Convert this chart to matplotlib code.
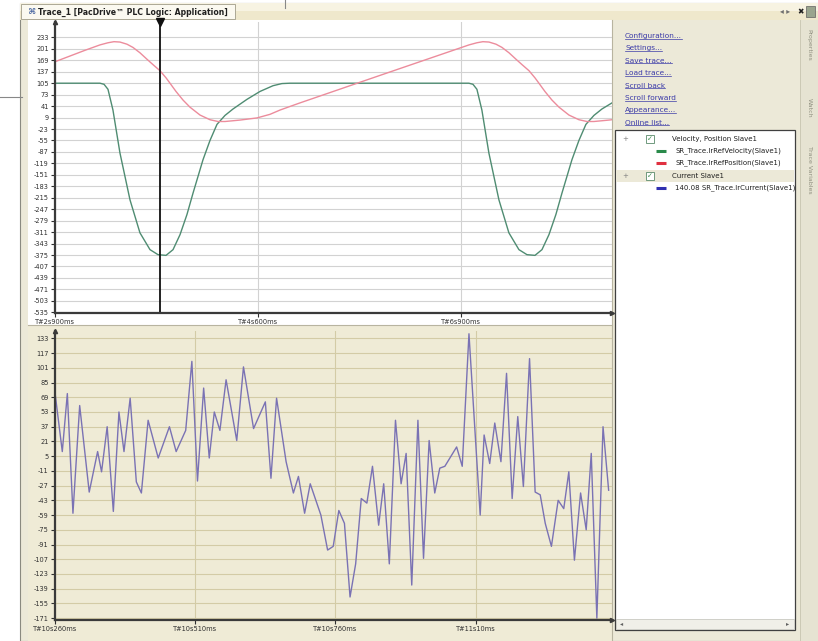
import matplotlib
matplotlib.use('Agg')
import matplotlib.pyplot as plt
from matplotlib.patches import Rectangle

W, H = 818, 641

# ---------------- data ----------------
# upper chart: velocity (green) and position (red) of Slave1, time in ms
vel_t = [2900, 3343, 3383, 3422, 3471, 3540, 3639, 3737, 3836, 3915, 3994, 4063, 4132, 4200,
         4260, 4358, 4427, 4496, 4575, 4654, 4792, 4920, 5048, 5136, 5215, 6978, 7018, 7057,
         7106, 7175, 7274, 7372, 7471, 7550, 7629, 7698, 7767, 7835, 7895, 7993, 8062, 8131,
         8210, 8289, 8388]
vel_v = [105, 105, 102, 88, 30, -90, -221, -313, -360, -374, -376, -360, -318, -262,
         -202, -109, -55, -10, 15, 33, 60, 82, 98, 104, 105, 105, 102, 88,
         30, -90, -221, -313, -360, -374, -376, -360, -318, -262, -202, -109, -55, -10,
         15, 33, 50]
pos_t = [2900, 3048, 3196, 3343, 3422, 3481, 3540, 3609, 3668, 3737, 3806, 3865, 3934, 3994,
         4033, 4092, 4161, 4230, 4329, 4427, 4506, 4575, 4723, 4890, 5018, 5117, 5215, 5314,
         5806, 6299, 6979, 7057, 7116, 7176, 7245, 7304, 7373, 7442, 7501, 7570, 7629, 7668,
         7727, 7796, 7866, 7964, 8062, 8141, 8210, 8358, 8388]
pos_v = [165, 181, 197, 212, 218, 221, 220, 214, 205, 190, 172, 157, 140, 120,
         105, 82, 58, 38, 16, 3, -2, -2, 2, 8, 18, 30, 40, 50,
         98, 146, 212, 218, 221, 220, 214, 205, 190, 172, 157, 140, 120, 105,
         82, 58, 38, 16, 3, -2, -2, 2, 3]
cursor_t = 3934
upper_yticks = [233, 201, 169, 137, 105, 73, 41, 9, -23, -55, -87, -119, -151, -183, -215,
                -247, -279, -311, -343, -375, -407, -439, -471, -503, -535]
upper_xticks = [2900, 4900, 6900]
upper_xlabels = ['T#2s900ms', 'T#4s600ms', 'T#6s900ms']

# lower chart: current of Slave1
cur_t = [10260, 10273, 10282, 10292, 10304, 10321, 10336, 10343, 10353, 10364, 10374, 10383,
         10394, 10405, 10414, 10426, 10444, 10464, 10476, 10493, 10504, 10514, 10525, 10535,
         10544, 10554, 10565, 10584, 10596, 10614, 10635, 10645, 10655, 10672, 10685, 10694,
         10705, 10715, 10734, 10746, 10756, 10766, 10776, 10786, 10796, 10806, 10816, 10826,
         10837, 10846, 10856, 10867, 10877, 10886, 10896, 10907, 10917, 10927, 10937, 10946,
         10955, 10976, 10986, 10998, 11018, 11025, 11035, 11044, 11055, 11065, 11075, 11085,
         11095, 11106, 11116, 11125, 11134, 11145, 11157, 11167, 11176, 11186, 11197, 11207,
         11216, 11226, 11237, 11247]
cur_v = [74, 10, 73, -57, 60, -34, 10, -12, 37, -55, 53, 10,
         68, -23, -35, 44, 3, 37, 10, 33, 108, -22, 79, 3,
         53, 33, 88, 22, 102, 35, 64, -19, 68, -1, -35, -17,
         -57, -25, -59, -97, -93, -54, -68, -148, -112, -41, -46, -6,
         -70, -25, -112, 44, -25, 8, -135, 44, -106, 22, -35, -8,
         -6, 15, -6, 138, -59, 28, -3, 41, -1, 95, -41, 48,
         -28, 111, -34, -37, -68, -93, -43, -52, -12, -108, -35, -75,
         8, -171, 37, -32]
lower_yticks = [133, 117, 101, 85, 69, 53, 37, 21, 5, -11, -27, -43, -59, -75, -91, -107,
                -123, -139, -155, -171]
lower_xticks = [10260, 10510, 10760, 11010]
lower_xlabels = ['T#10s260ms', 'T#10s510ms', 'T#10s760ms', 'T#11s10ms']

links = ['Configuration...', 'Settings...', 'Save trace...', 'Load trace...', 'Scroll back',
         'Scroll forward', 'Appearance...', 'Online list...']
tree_items = ['Velocity, Position Slave1', 'SR_Trace.lrRefVelocity(Slave1)',
              'SR_Trace.lrRefPosition(Slave1)', 'Current Slave1',
              '140.08 SR_Trace.lrCurrent(Slave1)']

GREEN = '#4f8c72'
RED = '#ec8c9c'
BLUE = '#7a72b4'

plt.rcParams['font.family'] = ['DejaVu Sans']

fig = plt.figure(figsize=(W / 100, H / 100), dpi=100)
fig.patch.set_facecolor('white')


def box(x0, y0, x1, y1):
    return [x0 / W, 1 - y1 / H, (x1 - x0) / W, (y1 - y0) / H]


# background axes in pixel coordinates
bg = fig.add_axes([0, 0, 1, 1])
bg.set_xlim(0, W)
bg.set_ylim(H, 0)
bg.axis('off')

# page artifacts
bg.plot([0, 22], [97, 97], color='#888888', lw=0.8)
bg.plot([285, 285], [0, 8], color='#888888', lw=0.8)

# window frame
bg.add_patch(Rectangle((20, 3), W - 20, H - 3, facecolor='#ece9d8', edgecolor='#8a8a80', lw=0.8))
# title bar
bg.add_patch(Rectangle((20, 3), W - 20, 17, facecolor='#efe8cc', edgecolor='none'))
bg.add_patch(Rectangle((20, 3), W - 20, 8, facecolor='#f7f3e2', edgecolor='none'))
bg.add_patch(Rectangle((21, 4), 214, 15, facecolor='#fbf9f0', edgecolor='#a09c88', lw=0.6))
bg.text(28, 12, '\u2318', fontsize=6, color='#3a5a9a', va='center', ha='left')
bg.text(38, 12, 'Trace_1 [PacDrive\u2122 PLC Logic: Application]', fontsize=5.6,
        fontweight='bold', color='#202020', va='center', ha='left')
bg.text(780, 12, '\u25c2 \u25b8', fontsize=5.5, color='#707070', va='center', ha='left')
bg.text(797, 12, '\u2716', fontsize=5.5, color='#202020', va='center', ha='left')
bg.add_patch(Rectangle((806, 6), 9, 11, facecolor='#9aa58e', edgecolor='#606060', lw=0.5))

# plot panels
bg.add_patch(Rectangle((28, 20), 584, 305, facecolor='white', edgecolor='none'))
bg.add_patch(Rectangle((28, 325), 584, 316, facecolor='#efebd6', edgecolor='none'))
bg.plot([28, 612], [325, 325], color='#b8b4a0', lw=0.8)
bg.plot([612, 612], [20, 641], color='#b8b4a0', lw=0.8)

# right vertical tab strip
bg.add_patch(Rectangle((800, 20), 18, 621, facecolor='#e6e3d2', edgecolor='none'))
bg.plot([800, 800], [20, 641], color='#c8c4b0', lw=0.6)
for yy, lab in [(45, 'Properties'), (108, 'Watch'), (170, 'Trace Variables')]:
    bg.text(809, yy, lab, fontsize=4.5, color='#909080', rotation=-90, va='center', ha='center')

# links
link_txt = []
for i, lab in enumerate(links):
    t = bg.text(625, 36 + i * 12.4, lab, fontsize=5.3, color='#3b3aa8', va='center', ha='left')
    link_txt.append(t)

# tree box
bg.add_patch(Rectangle((615, 130), 180, 500, facecolor='white', edgecolor='#404040', lw=0.9))
bg.add_patch(Rectangle((616, 170), 178, 12, facecolor='#ece9d8', edgecolor='none'))
rows_y = [139, 151, 163, 176, 188]
for k, yy in enumerate([rows_y[0], rows_y[3]]):
    bg.text(625, yy, '+', fontsize=5, color='#808080', va='center', ha='center')
    bg.add_patch(Rectangle((646, yy - 4), 8, 8, facecolor='white', edgecolor='#5a8a6a', lw=0.6))
    bg.text(650, yy, '\u2713', fontsize=5, color='#3a8a4a', va='center', ha='center')
bg.text(672, rows_y[0], tree_items[0], fontsize=5, color='#202020', va='center', ha='left')
bg.text(672, rows_y[3], tree_items[3], fontsize=5, color='#202020', va='center', ha='left')
for yy, col, lab in [(rows_y[1], '#2a8a4a', tree_items[1]), (rows_y[2], '#e03040', tree_items[2]),
                     (rows_y[4], '#3030b0', tree_items[4])]:
    bg.plot([656, 666], [yy, yy], color=col, lw=2.2, solid_capstyle='butt')
    t = bg.text(675, yy, lab, fontsize=5, color='#202020', va='center', ha='left', clip_on=True)
    t.set_clip_path(Rectangle((615, 130), 180, 500, transform=bg.transData))
# scrollbar
bg.add_patch(Rectangle((616, 619), 178, 10, facecolor='#f0efe8', edgecolor='#c0c0b8', lw=0.5))
bg.text(620, 624, '\u25c2', fontsize=4.5, color='#606060', va='center', ha='left')
bg.text(786, 624, '\u25b8', fontsize=4.5, color='#606060', va='center', ha='left')


def style_axes(ax, facecolor, gridcolor):
    ax.set_facecolor(facecolor)
    ax.patch.set_alpha(0)
    for s in ['top', 'right']:
        ax.spines[s].set_visible(False)
    for s in ['left', 'bottom']:
        ax.spines[s].set_color('#3a3a3a')
        ax.spines[s].set_linewidth(1.6)
    ax.tick_params(axis='both', labelsize=4.8, colors='#303030', length=3, width=0.8, pad=1.5)
    ax.grid(True, color=gridcolor, lw=0.8)
    ax.set_axisbelow(True)


# upper chart
ax1 = fig.add_axes(box(55, 22, 612, 313))
style_axes(ax1, 'white', '#d2d2d2')
ax1.plot(vel_t, vel_v, color=GREEN, lw=1.0)
ax1.plot(pos_t, pos_v, color=RED, lw=1.0)
ax1.set_xlim(2900, 8388)
ax1.set_ylim(-537, 276)
ax1.set_yticks(upper_yticks)
ax1.set_yticklabels([str(v) for v in upper_yticks])
ax1.set_xticks(upper_xticks)
ax1.set_xticklabels(upper_xlabels)
ax1.axvline(cursor_t, color='#101010', lw=1.3)
ax1.plot([cursor_t], [276], marker='v', color='#101010', markersize=6, clip_on=False)
ax1.plot([0], [1], marker='^', color='#3a3a3a', markersize=3, transform=ax1.transAxes, clip_on=False)
ax1.plot([1], [0], marker='>', color='#3a3a3a', markersize=3, transform=ax1.transAxes, clip_on=False)

# lower chart
ax2 = fig.add_axes(box(55, 331, 612, 620))
style_axes(ax2, '#efebd6', '#d3cba6')
ax2.plot(cur_t, cur_v, color=BLUE, lw=1.0)
ax2.set_xlim(10260, 11253)
ax2.set_ylim(-173, 141)
ax2.set_yticks(lower_yticks)
ax2.set_yticklabels([str(v) for v in lower_yticks])
ax2.set_xticks(lower_xticks)
ax2.set_xticklabels(lower_xlabels)
ax2.plot([0], [1], marker='^', color='#3a3a3a', markersize=3, transform=ax2.transAxes, clip_on=False)
ax2.plot([1], [0], marker='>', color='#3a3a3a', markersize=3, transform=ax2.transAxes, clip_on=False)

# underline links
fig.canvas.draw()
r = fig.canvas.get_renderer()
inv = bg.transData.inverted()
for t in link_txt:
    bb = t.get_window_extent(r)
    (x0, y0), (x1, y1) = inv.transform([[bb.x0, bb.y0], [bb.x1, bb.y1]])
    bg.plot([x0, x1], [y0 - 0.5, y0 - 0.5], color='#3b3aa8', lw=0.5)

fig.savefig('out.png', dpi=100)
